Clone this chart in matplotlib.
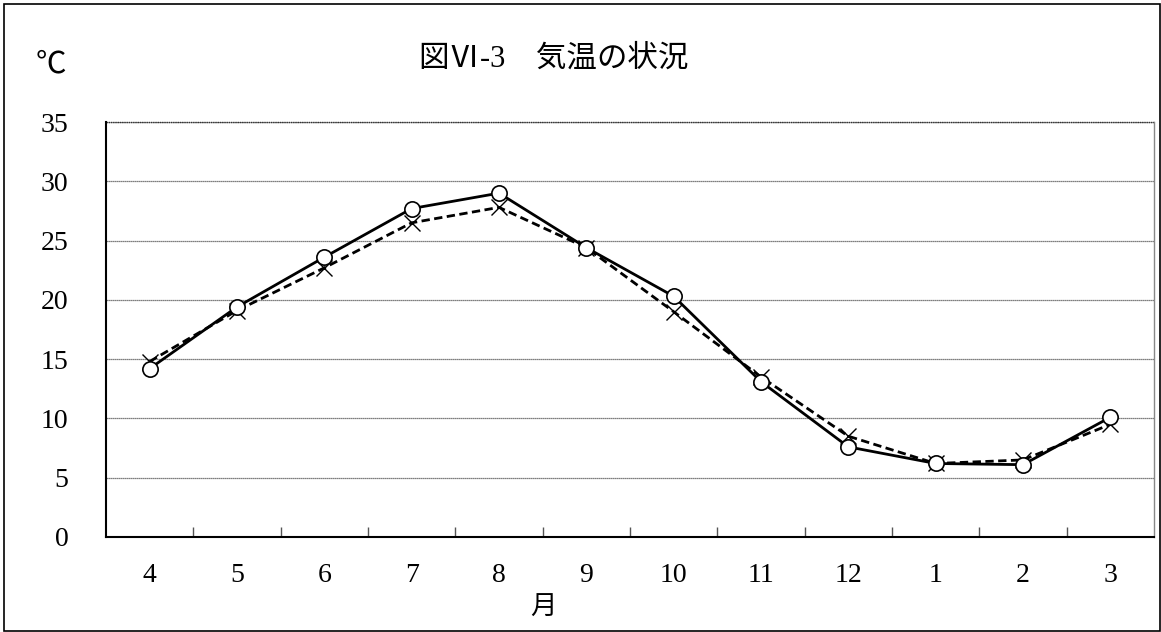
import matplotlib
matplotlib.use("Agg")
import matplotlib.pyplot as plt
from matplotlib.patches import Rectangle

months = ["4", "5", "6", "7", "8", "9", "10", "11", "12", "1", "2", "3"]
series_solid = [14.2, 19.4, 23.6, 27.7, 29.0, 24.4, 20.3, 13.1, 7.6, 6.2, 6.1, 10.1]
series_dashed = [14.8, 19.1, 22.7, 26.5, 27.8, 24.4, 19.0, 13.5, 8.5, 6.2, 6.5, 9.5]
yticks = [0, 5, 10, 15, 20, 25, 30, 35]

serif = ["Liberation Serif", "Noto Sans CJK JP"]
plt.rcParams["font.family"] = serif

fig = plt.figure(figsize=(11.61, 6.32), dpi=100)
ax = fig.add_axes([106/1161, 1-537/632, (1154-106)/1161, (537-122)/632])

x = list(range(len(months)))
ax.plot(x, series_solid, color="black", lw=2.0, ls="-", marker="o", ms=11,
        mfc="white", mec="black", mew=1.2, zorder=4)
ax.plot(x, series_dashed, color="black", lw=2.0, ls=(0, (3, 1.6)), marker="x", ms=11,
        mec="black", mew=1.0, zorder=3)

ax.set_xlim(-0.5, len(months) - 0.5)
ax.set_ylim(0, 35)
ax.set_yticks(yticks)
ax.set_yticklabels([str(v) for v in yticks], fontsize=20)
ax.tick_params(axis="y", length=0, pad=27)

ax.set_xticks(x)
ax.set_xticklabels(months, fontsize=20)
ax.tick_params(axis="x", which="major", length=0, pad=19)
ax.set_xticks([i + 0.5 for i in range(len(months) - 1)], minor=True)
ax.tick_params(axis="x", which="minor", direction="in", length=7, width=1, color="#555555")

ax.grid(axis="y", color="#555555", ls=(0, (1, 0.6)), lw=0.9)
ax.set_axisbelow(True)
for g in ax.get_ygridlines():
    g.set_zorder(1)

ax.spines["top"].set_visible(False)
ax.spines["right"].set_color("#888888")
ax.spines["right"].set_linewidth(1.0)
ax.spines["left"].set_linewidth(1.5)
ax.spines["bottom"].set_linewidth(1.5)
ax.axhline(35, color="#333333", ls=(0, (1, 0.6)), lw=1.0, clip_on=False)

fig.text(554/1161, 1-59/632, "図Ⅵ-3　気温の状況", ha="center", va="center",
         fontsize=22, family=serif)
fig.text(51/1161, 1-65/632, "℃", ha="center", va="center", fontsize=22, family=serif)
fig.text(543/1161, 1-608/632, "月", ha="center", va="center", fontsize=19, family=serif)

fig.patches.append(Rectangle((4/1161, 0.002), 1-5.5/1161, 1-4/632-0.002,
                             transform=fig.transFigure, fill=False,
                             edgecolor="black", lw=1.2))

fig.savefig("out.png", dpi=100, facecolor="white")
